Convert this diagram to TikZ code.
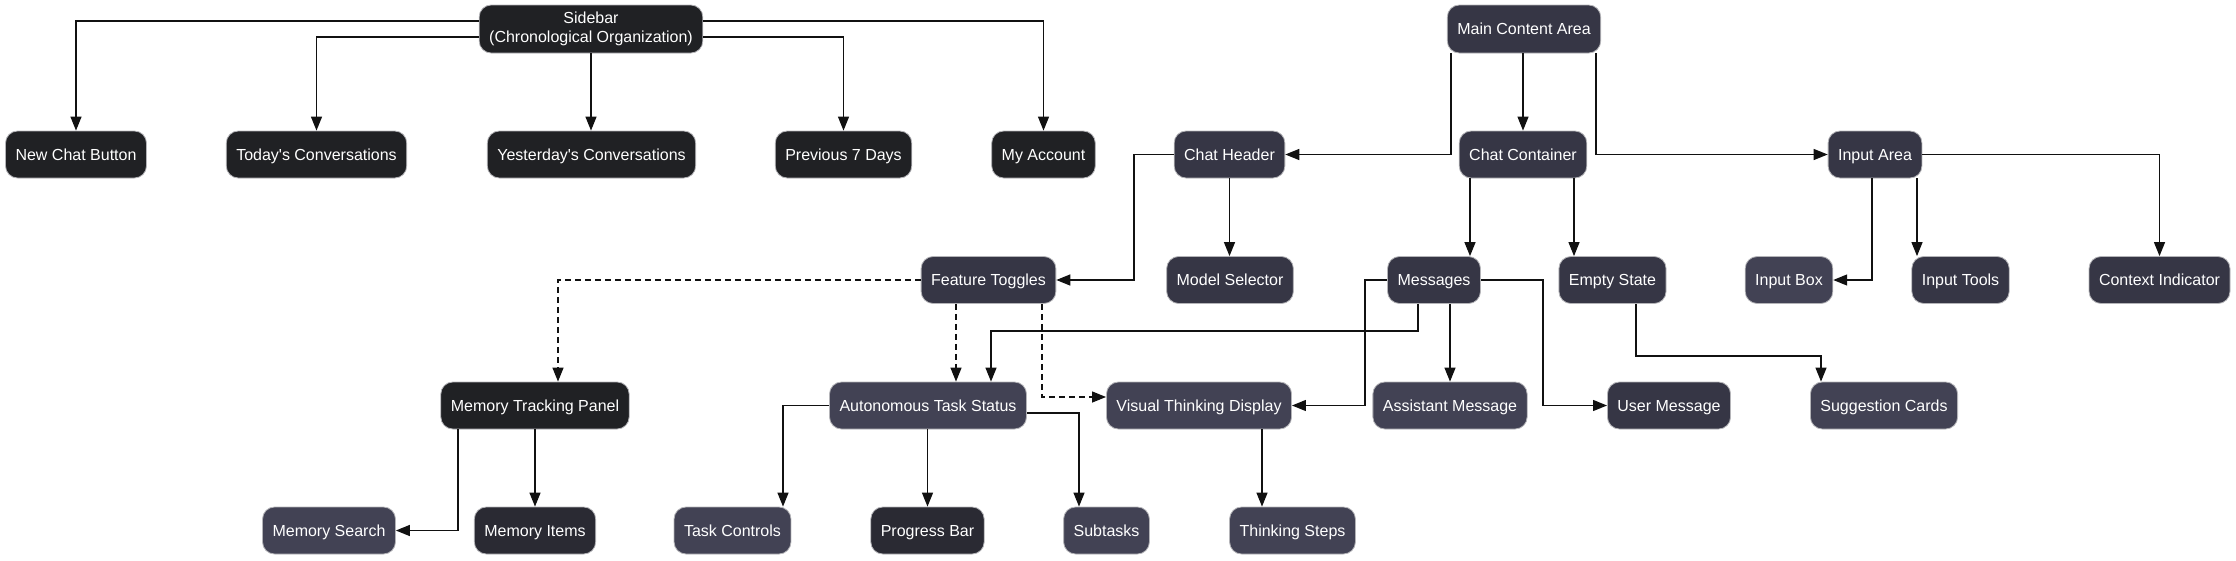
\documentclass[tikz,border=0pt]{standalone}
\usepackage{fontspec}
\setmainfont{Liberation Sans}
\usetikzlibrary{arrows.meta,calc}
\definecolor{cA}{HTML}{202124}
\definecolor{cB}{HTML}{2A2A33}
\definecolor{cC}{HTML}{363645}
\definecolor{cD}{HTML}{424254}
\definecolor{boxline}{HTML}{B4B4B8}
\definecolor{edge}{HTML}{111111}
\tikzset{
  box/.style={rectangle, rounded corners=12pt, draw=boxline, line width=0.8pt, text=white,
    font=\fontsize{16}{19}\selectfont, inner xsep=10pt, inner ysep=3pt, minimum height=47pt,
    text height=14.5pt, text depth=3.4pt},
  twoline/.style={align=center, text height=, text depth=, minimum height=48pt},
  ca/.style={box, fill=cA},
  cb/.style={box, fill=cB},
  cc/.style={box, fill=cC},
  cd/.style={box, fill=cD},
  arr/.style={draw=edge, line width=1.3pt, -{Triangle[length=14pt,width=11pt]}},
  darr/.style={arr, dash pattern=on 6pt off 4pt},
}
\begin{document}
\begin{tikzpicture}[x=1pt,y=-1pt]
\useasboundingbox (0,0) rectangle (2236,560);
% row 1
\node[ca, twoline] (sb) at (591,29) {Sidebar\\(Chronological Organization)};
\node[cc, minimum height=48pt] (mc) at (1524,29) {Main Content Area};
% row 2
\node[ca] (nc) at (76,154.5) {New Chat Button};
\node[ca] (td) at (316.5,154.5) {Today\textquotesingle s Conversations};
\node[ca] (yd) at (591.5,154.5) {Yesterday\textquotesingle s Conversations};
\node[ca] (p7) at (843.5,154.5) {Previous 7 Days};
\node[ca] (ma) at (1043.5,154.5) {My Account};
\node[cc] (ch) at (1229.5,154.5) {Chat Header};
\node[cc] (cc) at (1523,154.5) {Chat Container};
\node[cc] (ia) at (1875,154.5) {Input Area};
% row 3
\node[cc] (ft) at (988.5,280) {Feature Toggles};
\node[cc] (ms) at (1230,280) {Model Selector};
\node[cc] (msg) at (1434,280) {Messages};
\node[cc] (es) at (1612.5,280) {Empty State};
\node[cd] (ib) at (1789,280) {Input Box};
\node[cc] (it) at (1960.5,280) {Input Tools};
\node[cc] (ci) at (2159.5,280) {Context Indicator};
% row 4
\node[ca] (mtp) at (535,405.5) {Memory Tracking Panel};
\node[cd] (ats) at (928,405.5) {Autonomous Task Status};
\node[cd] (vtd) at (1199,405.5) {Visual Thinking Display};
\node[cd] (am) at (1450,405.5) {Assistant Message};
\node[cc] (um) at (1669,405.5) {User Message};
\node[cd] (sc) at (1884,405.5) {Suggestion Cards};
% row 5
\node[cd] (msr) at (329,530.5) {Memory Search};
\node[cb] (mi) at (535,530.5) {Memory Items};
\node[cd] (tc) at (732.5,530.5) {Task Controls};
\node[cb] (pb) at (927.5,530.5) {Progress Bar};
\node[cd] (st) at (1106.5,530.5) {Subtasks};
\node[cd] (ts) at (1292.5,530.5) {Thinking Steps};
% sidebar edges
\draw[arr] (sb.west |- 0,21) -| (nc.north);
\draw[arr] (sb.west |- 0,37) -| (td.north);
\draw[arr] (591,0 |- sb.south) -- (591,0 |- yd.north);
\draw[arr] (sb.east |- 0,37) -| (843.5,0 |- p7.north);
\draw[arr] (sb.east |- 0,21) -| (ma.north);
% main content edges
\draw[arr] ($(mc.south west)+(4,0)$) |- (ch.east);
\draw[arr] (1523,0 |- mc.south) -- (cc.north);
\draw[arr] ($(mc.south east)+(-5,0)$) |- (ia.west);
% chat header
\draw[arr] (ch.south) -- (1229.5,0 |- ms.north);
\draw[arr] (ch.west) -- (1134,0 |- ch.west) |- (ft.east);
% chat container
\draw[arr] (1470,0 |- cc.south) -- (1470,0 |- msg.north);
\draw[arr] (1574,0 |- cc.south) -- (1574,0 |- es.north);
% input area
\draw[arr] (1872,0 |- ia.south) |- (ib.east);
\draw[arr] (1917,0 |- ia.south) -- (1917,0 |- it.north);
\draw[arr] (ia.east) -| (ci.north);
% feature toggles (dashed)
\draw[darr] (ft.west) -| (558,0 |- mtp.north);
\draw[darr] (956,0 |- ft.south) -- (956,0 |- ats.north);
\draw[darr] (1042,0 |- ft.south) -- (1042,397) -- (vtd.west |- 0,397);
% messages
\draw[arr] (1418,0 |- msg.south) -- (1418,331) -| (991,0 |- ats.north);
\draw[arr] (msg.west) -- (1365,0 |- msg.west) |- (vtd.east);
\draw[arr] (1450,0 |- msg.south) -- (am.north);
\draw[arr] (msg.east) -- (1543,0 |- msg.east) |- (um.west);
% empty state
\draw[arr] (1636,0 |- es.south) -- (1636,356) -| (1821,0 |- sc.north);
% autonomous task status
\draw[arr] (ats.west) -| (783,0 |- tc.north);
\draw[arr] (927.5,0 |- ats.south) -- (pb.north);
\draw[arr] (ats.east |- 0,413) -| (1079,0 |- st.north);
% memory tracking panel
\draw[arr] (458,0 |- mtp.south) |- (msr.east);
\draw[arr] (mtp.south) -- (mi.north);
% visual thinking
\draw[arr] (1262,0 |- vtd.south) -- (1262,0 |- ts.north);
\end{tikzpicture}
\end{document}
